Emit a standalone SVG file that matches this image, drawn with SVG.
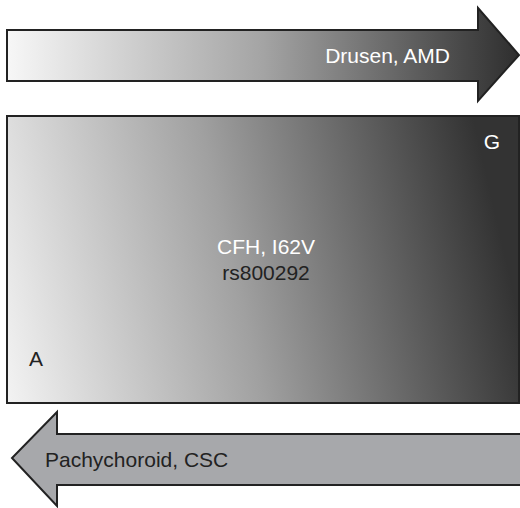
<svg xmlns="http://www.w3.org/2000/svg" width="520" height="508" viewBox="0 0 520 508">
<defs>
<linearGradient id="gTop" gradientUnits="userSpaceOnUse" x1="7" y1="0" x2="519" y2="0">
<stop offset="0" stop-color="#f7f7f7"/>
<stop offset="0.5" stop-color="#a4a4a4"/>
<stop offset="1" stop-color="#2e2e2e"/>
</linearGradient>
<linearGradient id="gMain" gradientUnits="userSpaceOnUse" x1="0" y1="440" x2="520" y2="320">
<stop offset="0" stop-color="#f8f8f8"/>
<stop offset="0.5" stop-color="#a0a0a0"/>
<stop offset="1" stop-color="#333333"/>
</linearGradient>
<style>
.shape{stroke:#222;stroke-width:2;stroke-linejoin:miter}
.t{font-family:"Liberation Sans",Arial,sans-serif;font-size:21px}
.w{fill:#ffffff}
.d{fill:#222222}
</style>
</defs>
<g id="arrow-top">
<path class="shape" fill="url(#gTop)" d="M7,30 L478,30 L478,8 L519,55 L478,101 L478,81 L7,81 Z"/>
<text class="t w" x="450" y="63" text-anchor="end">Drusen, AMD</text>
</g>
<g id="main-box">
<rect class="shape" fill="url(#gMain)" x="7" y="116" width="512" height="287"/>
<text class="t w" x="266" y="254" text-anchor="middle">CFH, I62V</text>
<text class="t d" x="266" y="280" text-anchor="middle">rs800292</text>
<text class="t w" x="492" y="149" text-anchor="middle">G</text>
<text class="t d" x="36" y="366" text-anchor="middle">A</text>
</g>
<g id="arrow-bottom">
<path class="shape" fill="#a7a8ab" d="M530,434 L57,434 L57,412 L12,458 L57,506 L57,485 L530,485 Z"/>
<text class="t d" x="45" y="467">Pachychoroid, CSC</text>
</g>
<g id="connectors"/>
</svg>
